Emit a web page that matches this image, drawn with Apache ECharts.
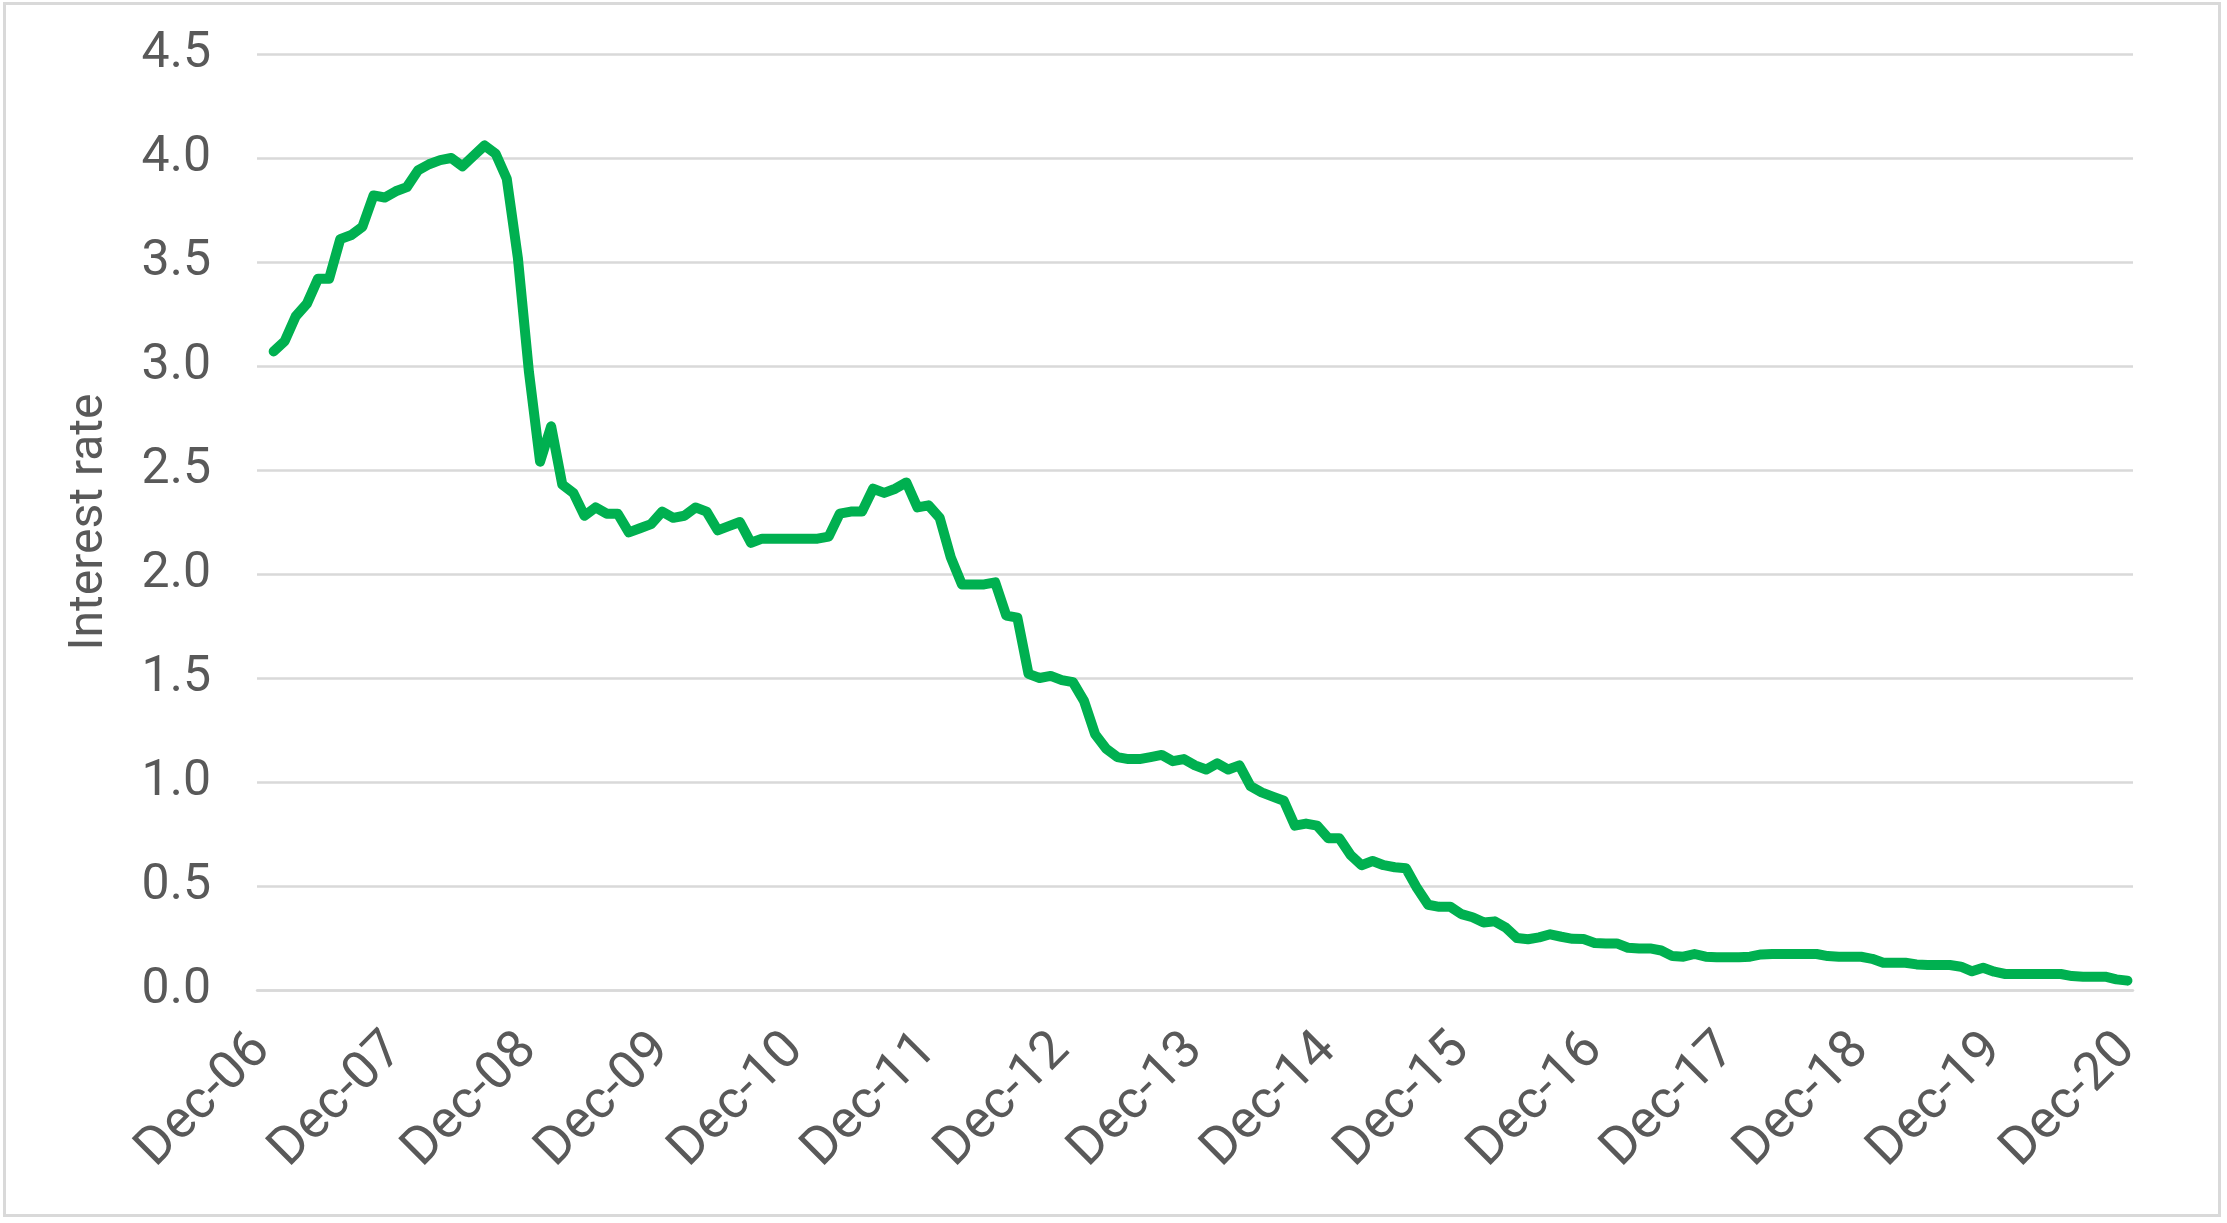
<!DOCTYPE html>
<html>
<head>
<meta charset="utf-8">
<title>Interest rate</title>
<script src="https://cdn.jsdelivr.net/npm/echarts@6/dist/echarts.min.js"></script>
<style>
  html, body { margin: 0; padding: 0; background: #fff; }
  #chart { position: absolute; left: 0; top: 0; width: 2227px; height: 1223px; }
  #frame { position: absolute; left: 3px; top: 2px; width: 2212px; height: 1209px; border: 3px solid #d9d9d9; pointer-events: none; }
</style>
</head>
<body>
<div id="chart"></div>
<div id="frame"></div>
<script>
// monthly series, Dec-06 .. Dec-20 (Dec-06 has no value)
const MONTHS = ["Jan", "Feb", "Mar", "Apr", "May", "Jun", "Jul", "Aug", "Sep", "Oct", "Nov", "Dec"];
const FIRST_YEAR = 2006, LAST_YEAR = 2020;

const rate2006 = ["-"]; // Dec only
const rate2007 = [3.07, 3.12, 3.24, 3.30, 3.42, 3.42, 3.61, 3.63, 3.67, 3.82, 3.81, 3.84];
const rate2008 = [3.86, 3.94, 3.97, 3.99, 4.00, 3.96, 4.01, 4.06, 4.02, 3.90, 3.52, 2.97];
const rate2009 = [2.54, 2.71, 2.43, 2.39, 2.28, 2.32, 2.29, 2.29, 2.20, 2.22, 2.24, 2.30];
const rate2010 = [2.27, 2.28, 2.32, 2.30, 2.21, 2.23, 2.25, 2.15, 2.17, 2.17, 2.17, 2.17];
const rate2011 = [2.17, 2.17, 2.18, 2.29, 2.30, 2.30, 2.41, 2.39, 2.41, 2.44, 2.32, 2.33];
const rate2012 = [2.27, 2.08, 1.95, 1.95, 1.95, 1.96, 1.80, 1.79, 1.52, 1.50, 1.51, 1.49];
const rate2013 = [1.48, 1.39, 1.23, 1.16, 1.12, 1.11, 1.11, 1.12, 1.13, 1.10, 1.11, 1.08];
const rate2014 = [1.06, 1.09, 1.06, 1.08, 0.98, 0.95, 0.93, 0.91, 0.79, 0.80, 0.79, 0.73];
const rate2015 = [0.73, 0.65, 0.60, 0.62, 0.60, 0.59, 0.585, 0.49, 0.41, 0.40, 0.40, 0.365];
const rate2016 = [0.35, 0.325, 0.33, 0.30, 0.25, 0.244, 0.253, 0.268, 0.256, 0.246, 0.245, 0.226];
const rate2017 = [0.224, 0.224, 0.203, 0.20, 0.20, 0.19, 0.163, 0.16, 0.173, 0.16, 0.157, 0.157];
const rate2018 = [0.157, 0.16, 0.171, 0.173, 0.173, 0.173, 0.173, 0.173, 0.163, 0.16, 0.16, 0.16];
const rate2019 = [0.15, 0.131, 0.131, 0.131, 0.123, 0.12, 0.12, 0.12, 0.112, 0.09, 0.107, 0.088];
const rate2020 = [0.077, 0.077, 0.077, 0.077, 0.077, 0.077, 0.067, 0.064, 0.064, 0.064, 0.051, 0.045];

const Y_TICKS = { min: 0, max: 4.5, step: 0.5 };

const rates = [].concat(rate2006, rate2007, rate2008, rate2009, rate2010, rate2011, rate2012,
  rate2013, rate2014, rate2015, rate2016, rate2017, rate2018, rate2019, rate2020);

// category labels like "Dec-06"
const categories = [];
for (let y = FIRST_YEAR; y <= LAST_YEAR; y++) {
  MONTHS.forEach((m, i) => {
    if (y === FIRST_YEAR && i < 11) return;
    categories.push(m + "-" + String(y).slice(2));
  });
}

const FONT = "Roboto";
const GREY = "#595959", RULE = "#d9d9d9";

const chart = echarts.init(document.getElementById("chart"), null, { renderer: "canvas" });
chart.setOption({
  animation: false,
  textStyle: { fontFamily: FONT },
  grid: { left: 257, right: 94, top: 54, bottom: 233, containLabel: false },
  xAxis: {
    type: "category",
    data: categories,
    boundaryGap: true,
    axisLine: { lineStyle: { color: RULE, width: 2.5 } },
    axisTick: { interval: 11, length: 17, lineStyle: { color: RULE, width: 2.5 } },
    axisLabel: { interval: 11, rotate: 45, margin: 52, color: GREY, fontSize: 53, fontFamily: FONT },
    splitLine: { show: false },
  },
  yAxis: {
    type: "value",
    min: Y_TICKS.min, max: Y_TICKS.max, interval: Y_TICKS.step,
    name: "Interest rate",
    nameLocation: "middle",
    nameRotate: 90,
    nameGap: 143,
    nameTextStyle: { color: GREY, fontSize: 48, fontFamily: FONT },
    axisLine: { show: false },
    axisTick: { show: false },
    axisLabel: { color: GREY, fontSize: 50, margin: 46, fontFamily: FONT, formatter: (v) => v.toFixed(1) },
    splitLine: { lineStyle: { color: RULE, width: 2.5 } },
  },
  series: [{
    type: "line",
    data: rates,
    showSymbol: false,
    smooth: false,
    connectNulls: false,
    lineStyle: { color: "#00B050", width: 10, cap: "round", join: "round" },
  }],
});
</script>
</body>
</html>
